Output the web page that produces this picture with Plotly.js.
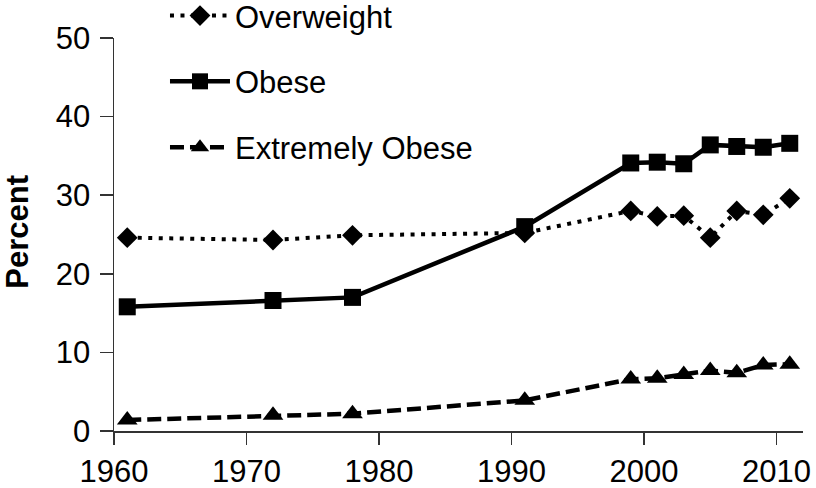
<!DOCTYPE html>
<html>
<head>
<meta charset="utf-8">
<script src="https://cdn.plot.ly/plotly-3.0.1.min.js"></script>
<style>html,body{margin:0;padding:0;background:#fff;}#chart{width:816px;height:488px;}</style>
</head>
<body>
<div id="chart"></div>
<script>
const years = [1961, 1972, 1978, 1991, 1999, 2001, 2003, 2005, 2007, 2009, 2011];
const overweight = [24.6, 24.3, 24.9, 25.2, 28.0, 27.3, 27.4, 24.6, 28.0, 27.5, 29.6];
const obese = [15.8, 16.6, 17.0, 26.0, 34.1, 34.2, 34.0, 36.4, 36.2, 36.1, 36.6];
const extremelyObese = [1.4, 2.0, 2.2, 3.9, 6.6, 6.7, 7.2, 7.7, 7.4, 8.4, 8.5];
const xTicks = [1960, 1970, 1980, 1990, 2000, 2010];
const yTicks = [0, 10, 20, 30, 40, 50];

const FONT = 'Liberation Sans, Arial, Helvetica, sans-serif';

const traces = [
  {x: years, y: overweight, name: 'Overweight', mode: 'lines+markers', legendgroup: 'a',
   line: {color: '#000', width: 4, dash: '4px,6.5px'},
   marker: {symbol: 'diamond', size: 16, color: '#000'}, cliponaxis: false},
  {x: years, y: obese, name: 'Obese', mode: 'lines+markers', legendgroup: 'b',
   line: {color: '#000', width: 4.5},
   marker: {symbol: 'square', size: 17, color: '#000'}, cliponaxis: false},
  {x: years, y: extremelyObese, name: 'Extremely Obese', mode: 'lines+markers', legendgroup: 'c',
   line: {color: '#000', width: 4.5, dash: '14px,6px'},
   marker: {symbol: 'triangle-up', size: 18, color: '#000'}, cliponaxis: false}
];

const layout = {
  width: 816, height: 488,
  margin: {l: 114, r: 13, t: 38, b: 57, autoexpand: false},
  paper_bgcolor: '#fff', plot_bgcolor: '#fff',
  font: {family: FONT, size: 31, color: '#000'},
  showlegend: true,
  legend: {x: 0.074, y: 1.125, xanchor: 'left', yanchor: 'top', bgcolor: 'rgba(0,0,0,0)',
           font: {family: FONT, size: 31, color: '#000'}, traceorder: 'grouped', tracegroupgap: 22.5,
           itemwidth: 60},
  xaxis: {range: [1960, 2012], tickvals: xTicks, ticktext: xTicks.map(String),
          showgrid: false, zeroline: false, showline: true, linecolor: '#333', linewidth: 1.5,
          ticks: 'outside', ticklen: 12, tickwidth: 1.5, tickcolor: '#333',
          tickfont: {family: FONT, size: 31, color: '#000'}, fixedrange: true},
  yaxis: {range: [0, 50], tickvals: yTicks, ticktext: yTicks.map(String),
          showgrid: false, zeroline: false, showline: true, linecolor: '#333', linewidth: 1.5,
          ticks: 'outside', ticklen: 13, tickwidth: 1.5, tickcolor: '#333', ticklabelstandoff: 3,
          tickfont: {family: FONT, size: 31, color: '#000'}, fixedrange: true},
  annotations: [{text: '<b>Percent</b>', textangle: -90, xref: 'paper', yref: 'paper',
                 x: -0.14, y: 0.506, xanchor: 'center', yanchor: 'middle', showarrow: false,
                 font: {family: FONT, size: 31, color: '#000'}}]
};

Plotly.newPlot('chart', traces, layout, {displayModeBar: false, staticPlot: true});
</script>
</body>
</html>
